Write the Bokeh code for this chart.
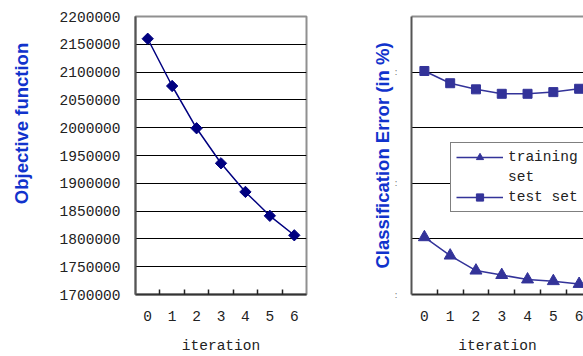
import math
from bokeh.plotting import figure
from bokeh.models import (FixedTicker, LinearAxis, Legend, LegendItem, Range1d,
                          BasicTickFormatter, CustomJSTickFormatter, Label)
from bokeh.layouts import row
from bokeh.embed import file_html
from bokeh.resources import INLINE

# ---- data ----
iterations = [0, 1, 2, 3, 4, 5, 6]
objective = [2160000, 2075000, 1999000, 1936000, 1884500, 1841500, 1806500]
train_err = [5.15, 3.5, 2.15, 1.75, 1.35, 1.2, 0.95]
test_err = [20.1, 19.0, 18.45, 18.05, 18.05, 18.2, 18.5]
obj_ticks = [1700000, 1750000, 1800000, 1850000, 1900000, 1950000,
             2000000, 2050000, 2100000, 2150000, 2200000]
err_ticks = [0, 5, 10, 15, 20, 25]
boundaries = [i + 0.5 for i in iterations[:-1]]

MONO = "Liberation Mono"
LABEL_BLUE = "#1133CC"
TXT = "#222222"


def style_common(p):
    p.xgrid.visible = False
    p.ygrid.grid_line_color = "black"
    p.ygrid.grid_line_width = 1
    xa = p.xaxis[0]
    xa.ticker = FixedTicker(ticks=iterations, minor_ticks=boundaries)
    xa.major_tick_in = 0
    xa.major_tick_out = 0
    xa.minor_tick_in = 5
    xa.minor_tick_out = 0
    xa.minor_tick_line_color = TXT
    xa.minor_tick_line_width = 1.5
    xa.axis_line_color = "#333333"
    xa.axis_line_width = 2
    xa.major_label_text_font = MONO
    xa.major_label_text_font_size = "14.5px"
    xa.major_label_text_color = TXT
    xa.major_label_standoff = 16
    xa.axis_label = "iteration"
    xa.axis_label_text_font = MONO
    xa.axis_label_text_font_size = "14.5px"
    xa.axis_label_text_font_style = "normal"
    xa.axis_label_text_color = TXT
    xa.axis_label_standoff = 14
    ya = p.yaxis[0]
    ya.major_tick_in = 0
    ya.major_tick_out = 0
    ya.minor_tick_in = 0
    ya.minor_tick_out = 0
    ya.axis_line_color = "#555555"
    ya.axis_line_width = 2
    ya.axis_label_text_font = "Liberation Sans"
    ya.axis_label_text_font_size = "18.5px"
    ya.axis_label_text_font_style = "bold"
    ya.axis_label_text_color = LABEL_BLUE


# ---- narrow strip holding the left chart's axis label ----
p0 = figure(width=40, height=356, x_range=Range1d(0, 40), y_range=Range1d(0, 356),
            x_axis_type=None, y_axis_type=None, output_backend="svg",
            toolbar_location=None, min_border=0)
p0.outline_line_color = None
p0.grid.visible = False
p0.add_layout(Label(x=21, y=219, text="Objective function", angle=math.pi / 2,
                    text_align="center", text_baseline="middle",
                    text_font="Liberation Sans", text_font_size="18.5px",
                    text_font_style="bold", text_color=LABEL_BLUE))

# ---- left chart ----
p1 = figure(width=290, height=356, x_range=Range1d(-0.5, 6.5),
            y_range=Range1d(1700000, 2200000), output_backend="svg",
            toolbar_location=None, min_border_left=95, min_border_right=24,
            min_border_top=15, min_border_bottom=61)
p1.outline_line_color = "#909090"
p1.outline_line_width = 2
style_common(p1)
p1.yaxis.ticker = FixedTicker(ticks=obj_ticks)
p1.yaxis.formatter = BasicTickFormatter(use_scientific=False)
p1.yaxis.major_label_text_font = MONO
p1.yaxis.major_label_text_font_size = "14.5px"
p1.yaxis.major_label_text_color = TXT
p1.yaxis.major_label_standoff = 15

p1.line(iterations, objective, line_color="#000080", line_width=1.5)
p1.scatter(iterations, objective, marker="square", angle=0.785398, size=8,
           fill_color="#000080", line_color="#000080")

# ---- right chart ----
p2 = figure(width=253, height=356, x_range=Range1d(-0.5, 6.17),
            y_range=Range1d(0, 25), output_backend="svg",
            toolbar_location=None, min_border_left=81, min_border_right=0,
            min_border_top=16, min_border_bottom=61)
p2.outline_line_color = None
style_common(p2)
p2.yaxis.ticker = FixedTicker(ticks=err_ticks)
p2.yaxis.formatter = CustomJSTickFormatter(code="return (tick % 10 == 0) ? ':' : '';")
p2.yaxis.major_label_text_font = "DejaVu Sans"
p2.yaxis.major_label_text_font_size = "9px"
p2.yaxis.major_label_text_color = "#777777"
p2.yaxis.major_label_standoff = 14
p2.yaxis.axis_label = "Classification Error (in %)"
p2.yaxis.axis_label_standoff = -2

top_axis = LinearAxis(ticker=FixedTicker(ticks=[]), axis_line_color="#909090",
                      axis_line_width=2, major_tick_out=0, major_tick_in=0,
                      minor_tick_out=0, minor_tick_in=0,
                      major_label_text_font_size="0px")
p2.add_layout(top_axis, "above")

C2 = "#333399"
tr_l = p2.line(iterations, train_err, line_color=C2, line_width=1.5)
tr_p = p2.scatter(iterations, train_err, marker="triangle", size=12,
                  fill_color=C2, line_color=C2)
te_l = p2.line(iterations, test_err, line_color=C2, line_width=1.5)
te_p = p2.scatter(iterations, test_err, marker="square", size=9,
                  fill_color=C2, line_color=C2)
dummy = p2.line([0, 0], [0, 0], line_alpha=0)

legend = Legend(items=[
    LegendItem(label="training", renderers=[tr_l, tr_p]),
    LegendItem(label="set", renderers=[dummy]),
    LegendItem(label="test set", renderers=[te_l, te_p]),
], location=(39, 82))
legend.label_text_font = MONO
legend.label_text_font_size = "14.5px"
legend.label_text_color = TXT
legend.border_line_color = "black"
legend.border_line_width = 1
legend.background_fill_color = "white"
legend.background_fill_alpha = 1
legend.padding = 5
legend.spacing = 2
legend.margin = 0
legend.glyph_width = 47
legend.glyph_height = 18
legend.label_height = 18
legend.label_standoff = 5
p2.add_layout(legend)

layout = row(p0, p1, p2)
open("out.html", "w").write(file_html(layout, INLINE))
